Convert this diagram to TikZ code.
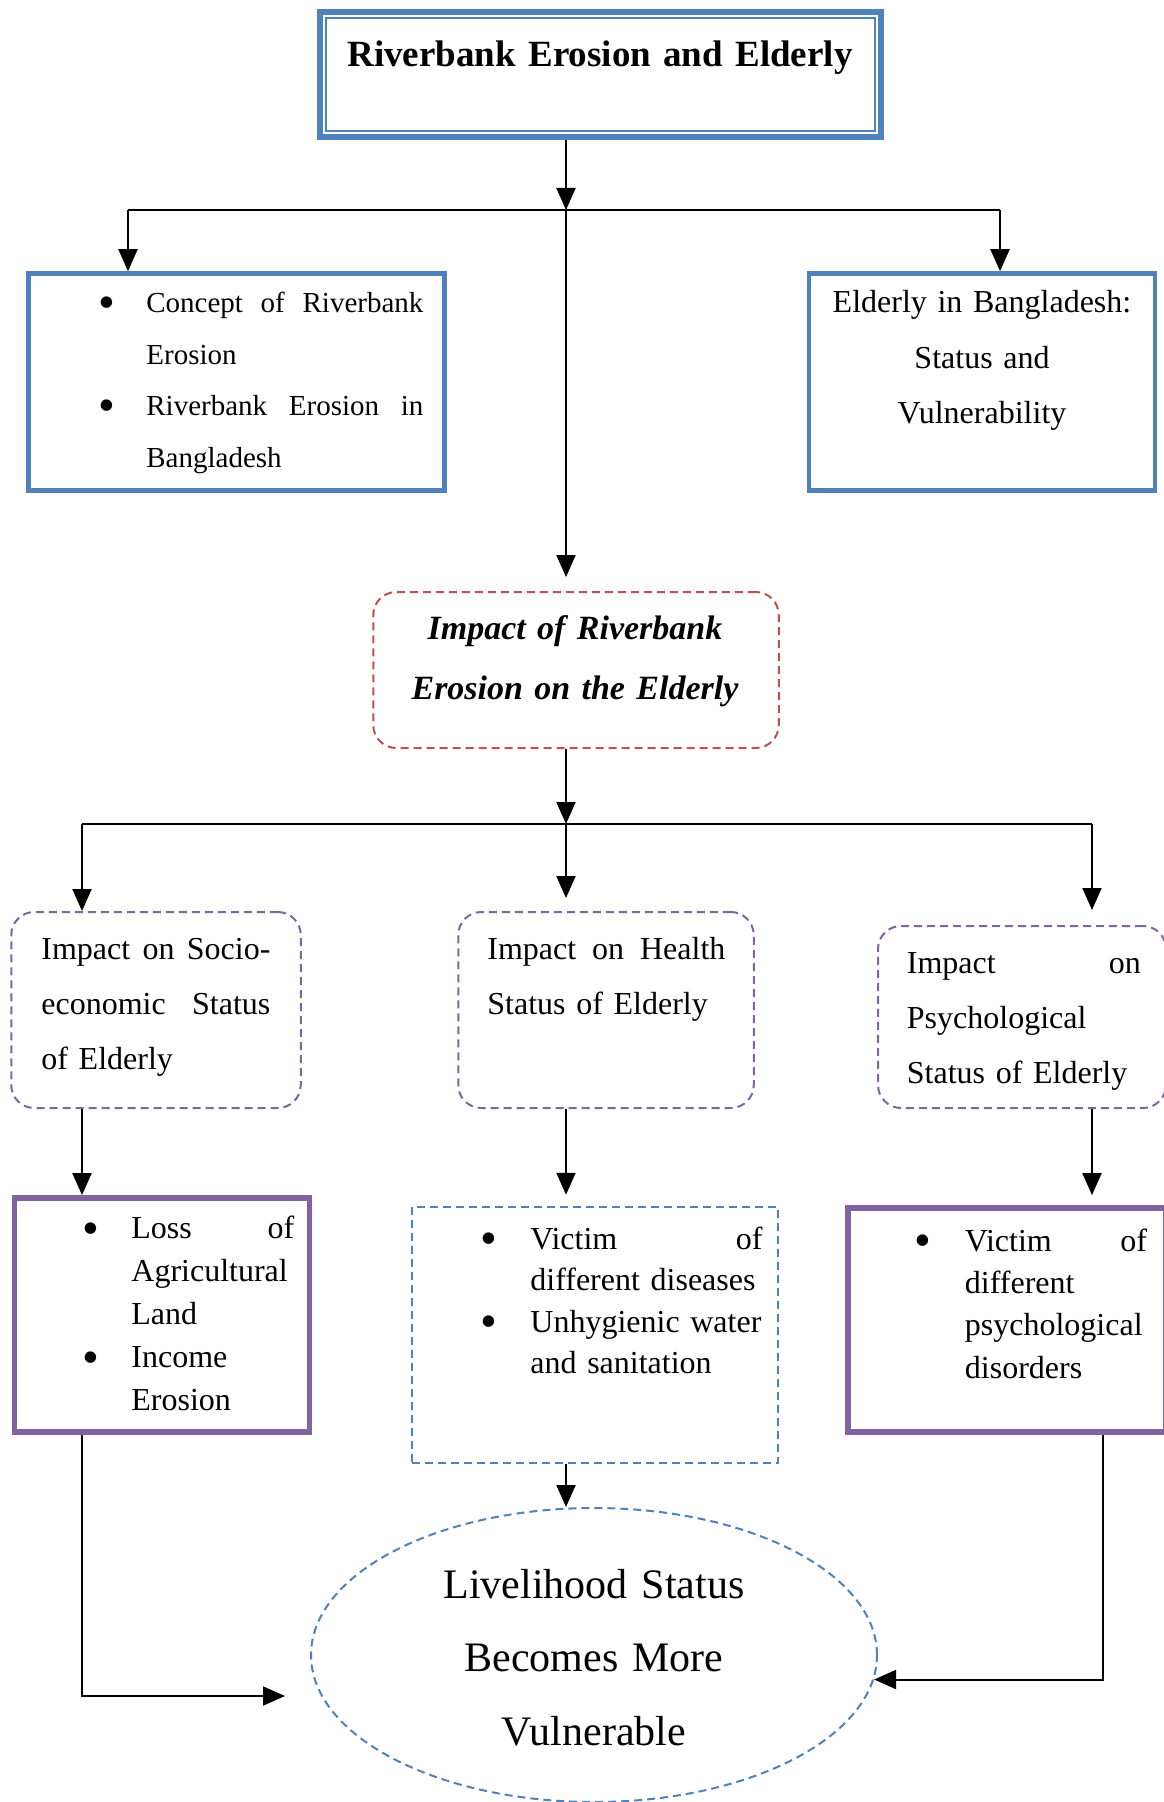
\documentclass[tikz,border=0pt]{standalone}
\usepackage{fontspec}
\setmainfont{Liberation Serif}
\usetikzlibrary{arrows.meta,shapes.geometric,calc}
\definecolor{boxblue}{HTML}{4F81BD}
\definecolor{boxpurple}{HTML}{8064A2}
\definecolor{boxred}{HTML}{C0504D}
\hyphenpenalty=10000
\newcommand{\bigdot}{\raisebox{-2.8pt}{\fontsize{24}{0}\selectfont\textbullet}}
\newcommand{\bpoint}[2][23pt]{\hangindent=#1\hangafter=1\noindent\makebox[#1][l]{\hspace{-1pt}\bigdot}#2\par}

\begin{document}
\begin{tikzpicture}[x=0.5pt, y=-0.5pt,
    arr/.style={line width=1pt, -{Triangle[length=11pt,width=9.5pt]}},
    link/.style={line width=1pt},
    solidblue/.style={draw=boxblue, line width=2.3pt},
    solidpurple/.style={draw=boxpurple, line width=2.9pt},
    dashbox/.style={draw=#1, line width=1pt, dash pattern=on 4pt off 2.5pt},
    roundbox/.style={dashbox=#1, rounded corners=11.5pt},
    body/.style={inner sep=0pt, anchor=base west, font=\fontsize{16}{#1}\selectfont},
    middletext/.style={inner sep=0pt, anchor=base, align=center}]
    \useasboundingbox (0,0) rectangle (1163,1802);

    \node[draw=boxblue, line width=3pt, minimum width=280.5pt, minimum height=62.5pt] (titlebox) at (600.5,74.5) {};
    \draw[boxblue, line width=1pt] ($(titlebox.north west)+(9,9)$) rectangle ($(titlebox.south east)+(-9,-9)$);
    \node[middletext, text width=270pt, font=\fontsize{18.5}{22}\selectfont\bfseries] (titletext) at (600,67) {Riverbank Erosion and Elderly};

    \node[solidblue, minimum width=208pt, minimum height=108.5pt] (concept) at (236.7,382) {};
    \node[body=25.8, text width=161.5pt, font=\fontsize{14.5}{25.8}\selectfont] (concepttext) at (100,312.5)
        {\bpoint{Concept\hfill of\hfill Riverbank\newline Erosion}\bpoint{Riverbank\hfill Erosion\hfill in\newline Bangladesh}};

    \node[solidblue, minimum width=173pt, minimum height=108.5pt] (elderly) at (982,382) {};
    \node[middletext, text width=170pt, font=\fontsize{16}{27.8}\selectfont] (elderlytext) at (982,312.5)
        {Elderly in Bangladesh:\\ Status and\\ Vulnerability};

    \node[roundbox=boxred, minimum width=202.75pt, minimum height=78pt] (impact) at (576,670) {};
    \node[middletext, text width=200pt, font=\fontsize{17}{30}\selectfont\bfseries\itshape] (impacttext) at (575,639)
        {Impact of Riverbank\\ Erosion on the Elderly};

    \node[roundbox=boxpurple, minimum width=144.75pt, minimum height=98pt] (socio) at (156,1010) {};
    \node[body=27.5, text width=114.5pt] (sociotext) at (41,959.5)
        {Impact\hfill on\hfill Socio-\newline economic\hfill Status\newline of Elderly};

    \node[roundbox=boxpurple, minimum width=147.75pt, minimum height=98pt] (health) at (606,1010) {};
    \node[body=27.5, text width=119pt] (healthtext) at (487,959.5)
        {Impact\hfill on\hfill Health\newline Status of Elderly};

    \node[roundbox=boxpurple, minimum width=144pt, minimum height=91pt] (psych) at (1022,1017) {};
    \node[body=27.5, text width=117pt] (psychtext) at (906.5,973)
        {Impact\hfill on\newline Psychological\newline Status of Elderly};

    \node[solidpurple, minimum width=147.5pt, minimum height=117pt] (loss) at (162,1315) {};
    \node[body=21.5, text width=105pt] (losstext) at (84,1238.5)
        {\bpoint[23.5pt]{Loss\hfill of\newline Agricultural\newline Land}\bpoint[23.5pt]{Income\newline Erosion}};

    \node[dashbox=boxblue, minimum width=182.75pt, minimum height=128.25pt] (diseases) at (595,1335) {};
    \node[body=20.8, text width=140pt] (diseasestext) at (482,1249)
        {\bpoint[24pt]{Victim\hfill of\newline different diseases}\bpoint[24pt]{Unhygienic water\newline and sanitation}};

    \node[solidpurple, minimum width=158.75pt, minimum height=112pt] (disorders) at (1007,1320) {};
    \node[body=21.2, text width=115pt] (disorderstext) at (916.5,1251)
        {\bpoint[24pt]{Victim\hfill of\newline different\newline psychological\newline disorders}};

    \node[ellipse, dashbox=boxblue, minimum width=283pt, minimum height=147pt] (livelihood) at (594,1655) {};
    \node[middletext, text width=250pt, font=\fontsize{21}{36.75}\selectfont] (livelihoodtext) at (594,1598)
        {Livelihood Status\\ Becomes More\\ Vulnerable};

    \coordinate (jtop) at (566,210);
    \coordinate (jtopl) at (128,210);
    \coordinate (jtopr) at (1000,210);
    \coordinate (jmid) at (566,824);
    \coordinate (jmidl) at (82,824);
    \coordinate (jmidr) at (1092,824);
    \coordinate (rdrop) at (1103,1435);
    \coordinate (lossend) at (285,1696);

    \draw[arr] (titlebox.south -| jtop) -- (jtop);
    \draw[link] (jtopl) -- (jtopr);
    \draw[arr] (jtopl) -- (concept.north -| jtopl);
    \draw[arr] (jtopr) -- (elderly.north -| jtopr);
    \draw[arr, shorten >=7pt] (jtop) -- (impact.north -| jtop);

    \draw[arr] (impact.south -| jmid) -- (jmid);
    \draw[link] (jmidl) -- (jmidr);
    \draw[arr] (jmidl) -- (socio.north -| jmidl);
    \draw[arr, shorten >=6.5pt] (jmid) -- (health.north -| jmid);
    \draw[arr, shorten >=7.5pt] (jmidr) -- (psych.north -| jmidr);

    \draw[arr] (socio.south -| jmidl) -- (loss.north -| jmidl);
    \draw[arr, shorten >=5.5pt] (health.south -| jmid) -- (diseases.north -| jmid);
    \draw[arr, shorten >=5pt] (psych.south -| jmidr) -- (disorders.north -| jmidr);

    \draw[arr] (diseases.south -| jmid) -- (livelihood.north -| jmid);
    \draw[arr] (loss.south -| jmidl) |- (lossend);
    \draw[arr] (disorders.south -| rdrop) |- (livelihood.-5);
\end{tikzpicture}
\end{document}
